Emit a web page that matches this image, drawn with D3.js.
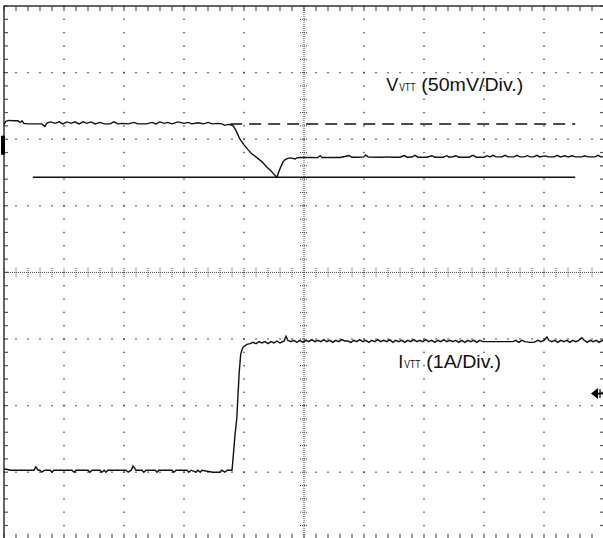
<!DOCTYPE html>
<html>
<head>
<meta charset="utf-8">
<script src="https://cdn.jsdelivr.net/npm/d3@7"></script>
<style>
  body { margin: 0; background: #fff; }
  svg { display: block; }
</style>
</head>
<body>
<script>
// scope traces: time in divisions, VVTT in mV (from the no-load level), IVTT in A (from the no-load level)
var vvttTrace = [
  [0.00,-0.4],[0.03,1.9],[0.08,2.6],[0.17,2.3],[0.23,2.3],[0.27,1.1],[0.30,2.3],[0.33,0.4],[0.40,0],[0.53,0],
  [0.63,0],[0.68,-2],[0.72,0.8],[0.78,1.5],[0.85,0.4],[0.92,1.5],[0.98,0],[1.05,1.5],[1.12,0.4],[1.18,1.5],
  [1.25,0],[1.32,1.5],[1.38,0.4],[1.45,1.5],[1.52,0],[1.60,1.1],[1.67,0],[1.77,0],[1.83,1.5],[1.90,0],
  [1.97,0.4],[2.07,0],[2.17,1.1],[2.23,0],[2.37,0],[2.47,1.1],[2.53,0],[2.60,1.5],[2.67,0.4],[2.73,1.1],
  [2.80,0],[2.90,1.5],[3.00,0.4],[3.07,1.1],[3.13,0],[3.23,0.8],[3.33,0],[3.40,1.1],[3.47,0],[3.57,0.4],
  [3.63,0],[3.68,-1.1],[3.73,-0.4],[3.77,-0.6],[3.82,-1.5],[3.87,-5.3],[3.93,-11.3],[4.00,-15.8],[4.07,-19.5],[4.13,-22.5],
  [4.22,-25.5],[4.30,-28.5],[4.38,-32.3],[4.45,-35.3],[4.52,-39],[4.55,-39.8],[4.58,-36],[4.62,-31.5],[4.65,-28.5],[4.68,-27],
  [4.73,-25.9],[4.78,-25.5],[4.85,-26.3],[4.88,-25.5],[4.93,-25.2],[5.10,-25.2],[5.23,-25.3],[5.27,-23.8],[5.30,-25.2],[5.60,-25.2],
  [5.68,-24.5],[5.75,-23.8],[5.80,-25.1],[5.90,-25.1],[6.00,-24.8],[6.03,-23.4],[6.07,-24.9],[6.30,-25],[6.40,-24.8],[6.47,-25],
  [6.60,-25],[6.67,-23.8],[6.72,-25],[6.80,-24.9],[6.85,-23.6],[6.90,-25],[7.05,-25],[7.13,-23.9],[7.18,-25],[7.32,-25],
  [7.38,-23.9],[7.42,-25],[7.48,-24.7],[7.53,-23.9],[7.58,-25],[7.75,-25],[7.82,-23.6],[7.87,-25],[8.00,-25],[8.05,-23.9],
  [8.10,-24.8],[8.15,-23.6],[8.20,-24.8],[8.30,-24.8],[8.35,-23.6],[8.40,-24.8],[8.50,-24.8],[8.55,-23.6],[8.60,-24.8],[8.67,-24.8],
  [8.72,-23.9],[8.77,-24.8],[8.83,-24.8],[8.88,-23.6],[8.93,-24.8],[9.02,-24],[9.07,-24.8],[9.17,-24.8],[9.22,-23.6],[9.27,-24.8],
  [9.35,-24],[9.40,-24.8],[9.47,-24],[9.52,-24.8],[9.63,-24.8],[9.68,-24],[9.73,-24.8],[9.85,-24.8],[9.90,-23.6],[9.95,-24.8],
  [10,-24.8]
];

var ivttTrace = [
  [0.00,0.02],[0.06,0.01],[0.10,0],[0.50,0],[0.53,0.05],[0.57,0],[0.60,0],[0.63,-0.03],[0.68,0],[0.77,0],
  [0.80,-0.03],[0.83,0],[1.13,0],[1.17,-0.03],[1.20,0],[1.40,0],[1.43,-0.03],[1.47,0],[1.60,0],[1.63,-0.03],
  [1.67,0],[1.70,-0.03],[1.73,0],[2.03,0],[2.07,-0.03],[2.12,0],[2.15,0.065],[2.20,0],[2.30,0],[2.33,-0.03],
  [2.37,0],[2.52,0],[2.55,-0.03],[2.58,0],[2.80,0],[2.83,-0.03],[2.87,0],[3.05,0],[3.08,-0.03],[3.12,0],
  [3.20,-0.03],[3.23,0],[3.27,-0.03],[3.30,0],[3.48,-0.03],[3.60,-0.03],[3.63,0],[3.68,-0.03],[3.72,0],[3.80,0],
  [3.82,0.2],[3.85,0.53],[3.88,0.78],[3.90,1.13],[3.92,1.47],[3.945,1.74],[3.97,1.82],[3.99,1.85],[4.05,1.89],[4.10,1.90],
  [4.15,1.92],[4.20,1.90],[4.25,1.93],[4.30,1.91],[4.35,1.93],[4.40,1.90],[4.45,1.93],[4.50,1.91],[4.55,1.94],[4.60,1.91],
  [4.67,1.94],[4.70,2.01],[4.73,1.95],[4.78,1.93],[4.83,1.95],[4.88,1.92],[4.93,1.95],[4.98,1.92],[5.03,1.95],[5.08,1.93],
  [5.13,1.96],[5.18,1.93],[5.23,1.95],[5.28,1.93],[5.33,1.96],[5.38,1.93],[5.43,1.95],[5.48,1.92],[5.53,1.95],[5.58,1.93],
  [5.63,1.96],[5.68,1.94],[5.73,1.94],[5.78,1.92],[5.83,1.95],[5.88,1.93],[5.93,1.96],[5.98,1.93],[6.03,1.95],[6.08,1.92],
  [6.13,1.95],[6.18,1.93],[6.23,1.96],[6.28,1.93],[6.33,1.95],[6.38,1.93],[6.43,1.96],[6.48,1.92],[6.53,1.95],[6.58,1.93],
  [6.63,1.95],[6.68,1.92],[6.73,1.95],[6.78,1.93],[6.83,1.96],[6.88,1.93],[6.93,1.95],[6.98,1.93],[7.03,1.96],[7.08,1.93],
  [7.13,1.95],[7.18,1.92],[7.23,1.95],[7.28,1.93],[7.33,1.96],[7.38,1.93],[7.43,1.95],[7.48,1.93],[7.53,1.95],[7.58,1.92],
  [7.63,1.95],[7.68,1.92],[7.73,1.95],[7.78,1.93],[7.83,1.95],[7.88,1.92],[7.93,1.95],[7.98,1.93],[8.05,1.93],[8.48,1.93],
  [8.53,1.95],[8.58,1.92],[8.63,1.95],[8.68,1.93],[8.77,1.92],[8.83,1.92],[8.90,1.95],[8.95,1.93],[9.00,1.95],[9.05,2.00],
  [9.08,1.95],[9.13,1.93],[9.18,1.95],[9.23,1.92],[9.28,1.95],[9.33,1.93],[9.38,1.95],[9.43,1.92],[9.48,1.95],[9.53,1.93],
  [9.58,1.95],[9.63,1.99],[9.67,1.95],[9.72,1.92],[9.77,1.95],[9.82,1.93],[9.87,1.95],[9.92,1.92],[9.97,1.95],[10,1.94]
];

// channel settings (scale per division, offset of the zero level in divisions)
var vvttMvPerDiv = 50, vvttOffsetDiv = 2.23;
var ivttAPerDiv = 1, ivttOffsetDiv = -2.97;

// reference lines on the VVTT channel: [level mV, from div, to div, dashed]
var vvttRefLines = [[0, 3.77, 9.52, true], [-40, 0.48, 9.52, false]];
var vvttMarkerMv = -16;     // channel marker on the left edge
var ivttTriggerA = 1.15;    // trigger arrow on the right edge

var labels = [
  { main: "V", sub: "VTT", rest: "(50mV/Div.)", t: 6.37, div: 2.72 },
  { main: "I", sub: "VTT", rest: "(1A/Div.)", t: 6.57, div: -1.44 }
];

var width = 603, height = 538;
var svg = d3.select("body").append("svg")
  .attr("width", width).attr("height", height);
svg.append("rect").attr("width", width).attr("height", height).attr("fill", "#fff");

var x = d3.scaleLinear().domain([0, 10]).range([4, 604]);
var y = d3.scaleLinear().domain([-4, 4]).range([538.8, 6]);

var grid = svg.append("g").attr("fill", "#444");
var minorX = d3.range(0, 10.001, 0.2), minorY = d3.range(-4, 4.001, 0.2);

// dotted grid lines
d3.range(1, 10).filter(d => d != 5).forEach(d => {
  grid.selectAll(null).data(minorY).enter().append("rect")
    .attr("x", x(d) - 0.7).attr("y", v => y(v) - 0.7).attr("width", 1.4).attr("height", 1.4);
});
d3.range(-3, 4).filter(d => d != 0).forEach(d => {
  grid.selectAll(null).data(minorX).enter().append("rect")
    .attr("x", t => x(t) - 0.7).attr("y", y(d) - 0.7).attr("width", 1.4).attr("height", 1.4);
});

// centre axes with minor ticks
var axes = svg.append("g").attr("stroke", "#444").attr("stroke-width", 1).attr("stroke-dasharray", "1,1");
axes.append("line").attr("x1", x(5)).attr("x2", x(5)).attr("y1", y(4)).attr("y2", y(-4));
axes.append("line").attr("x1", x(0)).attr("x2", x(10)).attr("y1", y(0)).attr("y2", y(0));
axes.selectAll(null).data(minorY).enter().append("line")
  .attr("x1", x(5) - 4).attr("x2", x(5) + 4).attr("y1", v => y(v)).attr("y2", v => y(v));
axes.selectAll(null).data(minorX).enter().append("line")
  .attr("y1", y(0) - 4.5).attr("y2", y(0) + 4.5).attr("x1", t => x(t)).attr("x2", t => x(t));

// edge ticks
var edge = svg.append("g").attr("stroke", "#555").attr("stroke-width", 1.2);
edge.selectAll(null).data(minorX).enter().append("line")
  .attr("x1", t => x(t)).attr("x2", t => x(t)).attr("y1", y(4)).attr("y2", y(4) + 5);
edge.selectAll(null).data(minorX).enter().append("line")
  .attr("x1", t => x(t)).attr("x2", t => x(t)).attr("y1", y(-4)).attr("y2", y(-4) - 5);
edge.selectAll(null).data(minorY).enter().append("line")
  .attr("x1", x(0)).attr("x2", x(0) + 4).attr("y1", v => y(v)).attr("y2", v => y(v));
edge.selectAll(null).data(minorY).enter().append("line")
  .attr("x1", x(10)).attr("x2", x(10) - 4).attr("y1", v => y(v)).attr("y2", v => y(v));

// frame
svg.append("rect")
  .attr("x", x(0)).attr("y", y(4)).attr("width", x(10) - x(0)).attr("height", y(-4) - y(4))
  .attr("fill", "none").attr("stroke", "#333").attr("stroke-width", 1.5);

var vy = mv => y(vvttOffsetDiv + mv / vvttMvPerDiv);
var iy = a => y(ivttOffsetDiv + a / ivttAPerDiv);

// reference lines
svg.selectAll(".ref").data(vvttRefLines).enter().append("line")
  .attr("class", "ref")
  .attr("x1", d => x(d[1])).attr("x2", d => x(d[2]))
  .attr("y1", d => vy(d[0])).attr("y2", d => vy(d[0]))
  .attr("stroke", "#111").attr("stroke-width", 1.5)
  .attr("stroke-dasharray", d => d[3] ? "12,7" : null);

// traces
var vLine = d3.line().x(d => x(d[0])).y(d => vy(d[1]));
var iLine = d3.line().x(d => x(d[0])).y(d => iy(d[1]));
svg.append("path").datum(vvttTrace).attr("d", vLine)
  .attr("fill", "none").attr("stroke", "#111").attr("stroke-width", 1.4);
svg.append("path").datum(ivttTrace).attr("d", iLine)
  .attr("fill", "none").attr("stroke", "#111").attr("stroke-width", 1.4);

// markers
svg.append("rect").attr("x", x(0) - 3).attr("y", vy(vvttMarkerMv) - 9.5)
  .attr("width", 4).attr("height", 19).attr("fill", "#000");
var ty = iy(ivttTriggerA);
svg.append("path")
  .attr("d", "M" + (x(10) - 13) + "," + ty + "l7,-5.5v11z")
  .attr("fill", "#000");
svg.append("line").attr("x1", x(10) - 8).attr("x2", x(10)).attr("y1", ty).attr("y2", ty)
  .attr("stroke", "#000").attr("stroke-width", 1.8);
svg.append("line").attr("x1", x(10) - 4).attr("x2", x(10) - 4).attr("y1", ty - 4.5).attr("y2", ty + 4.5)
  .attr("stroke", "#000").attr("stroke-width", 1.2);

// labels
labels.forEach(l => {
  var bx = x(l.t), by = y(l.div);
  var g = svg.append("g").attr("font-family", "'Liberation Sans', Arial, sans-serif").attr("fill", "#111");
  var main = g.append("text").attr("x", bx).attr("y", by).attr("font-size", 18).text(l.main);
  var mw = main.node().getComputedTextLength();
  g.append("text").attr("x", bx + mw + 1).attr("y", by).attr("font-size", 10.5).text(l.sub)
    .attr("textLength", 16.3).attr("lengthAdjust", "spacingAndGlyphs");
  g.append("text").attr("x", bx + mw + 23).attr("y", by).attr("font-size", 18).text(l.rest)
    .attr("transform", "translate(" + (bx + mw + 23) + "," + by + ") scale(1.09,1) translate(" + (-(bx + mw + 23)) + "," + (-by) + ")");
});
</script>
</body>
</html>
